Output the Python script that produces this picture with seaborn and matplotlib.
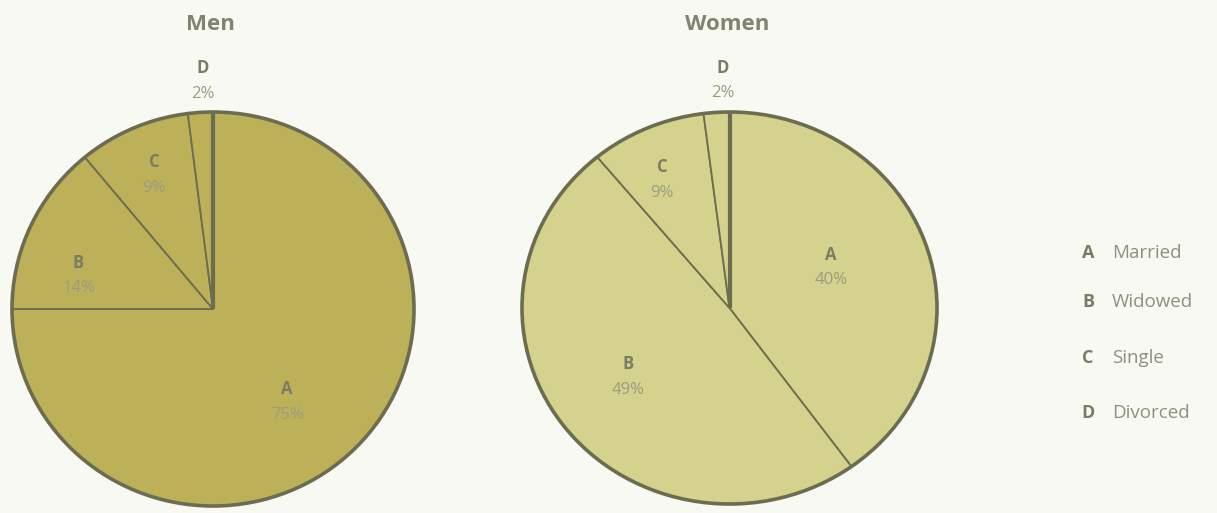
import numpy as np
import matplotlib
matplotlib.use("Agg")
import matplotlib.pyplot as plt
import seaborn as sns
from matplotlib.patches import Circle

# ---- data ----
letters = ["A", "B", "C", "D"]
categories = ["Married", "Widowed", "Single", "Divorced"]
men_values = [75, 14, 9, 2]
women_values = [40, 49, 9, 2]
panel_titles = ["Men", "Women"]

# ---- layout for labels (radial distance, angular nudge in degrees) ----
men_label_r = [0.60, 0.69, 0.74, 1.16]
men_label_nudge = [-7, 11, 0, -1]
women_label_r = [0.53, 0.60, 0.73, 1.16]
women_label_nudge = [5, -2, 3, -2]

sns.set_theme(style="white")
plt.rcParams["font.family"] = ["Open Sans", "DejaVu Sans"]

bg = "#f8f9f3"
edge = "#6c6d50"
men_color = "#bcb158"
women_color = "#d4d28c"
title_color = "#80846e"
letter_color = "#7a7d64"
pct_color = "#9c9c82"

fig = plt.figure(figsize=(12.17, 5.13), dpi=100, facecolor=bg)

axes_rects = [
    [12 / 1217, (513 - 506) / 513, 402 / 1217, 394 / 513],
    [522 / 1217, (513 - 504) / 513, 415 / 1217, 392 / 513],
]
fills = [men_color, women_color]
values_list = [men_values, women_values]
rs = [men_label_r, women_label_r]
nudges = [men_label_nudge, women_label_nudge]
title_x = [210 / 1217, 727 / 1217]

for rect, vals, fc, lr, nd, title, tx in zip(axes_rects, values_list, fills, rs, nudges,
                                             panel_titles, title_x):
    ax = fig.add_axes(rect)
    ax.set_facecolor("none")
    wedges, _ = ax.pie(vals, startangle=90, counterclock=False, colors=[fc] * 4,
                       wedgeprops=dict(edgecolor=edge, linewidth=1.3), radius=1.0)
    ax.set_aspect("auto")
    ax.set_xlim(-1.0, 1.0)
    ax.set_ylim(-1.0, 1.0)
    ax.axis("off")
    # outer rim
    ax.add_patch(Circle((0, 0), 1.0, fill=False, edgecolor=edge, linewidth=2.6,
                        zorder=5, clip_on=False))
    # heavier starting radius at 12 o'clock
    ax.plot([0, 0], [0, 1], color=edge, linewidth=3.0, zorder=6, solid_capstyle="butt")
    for w, letter, v, r, dn in zip(wedges, letters, vals, lr, nd):
        ang = np.deg2rad((w.theta1 + w.theta2) / 2 + dn)
        x, y = r * np.cos(ang), r * np.sin(ang)
        ax.text(x, y + 0.065, letter, ha="center", va="center", fontsize=12,
                fontweight="bold", color=letter_color, clip_on=False)
        ax.text(x, y - 0.065, f"{v}%", ha="center", va="center", fontsize=12,
                color=pct_color, clip_on=False)
    fig.text(tx, 1 - 25 / 513, title, ha="center", va="center", fontsize=16,
             fontweight="bold", color=title_color)

# ---- legend ----
legend_y = [253, 302, 358, 413]
for letter, cat, yy in zip(letters, categories, legend_y):
    fig.text(1088 / 1217, 1 - yy / 513, letter, ha="center", va="center", fontsize=13,
             fontweight="bold", color=letter_color)
    fig.text(1112 / 1217, 1 - yy / 513, cat, ha="left", va="center", fontsize=13.5,
             color="#8e907c")

fig.savefig("out.png", dpi=100, facecolor=bg)
